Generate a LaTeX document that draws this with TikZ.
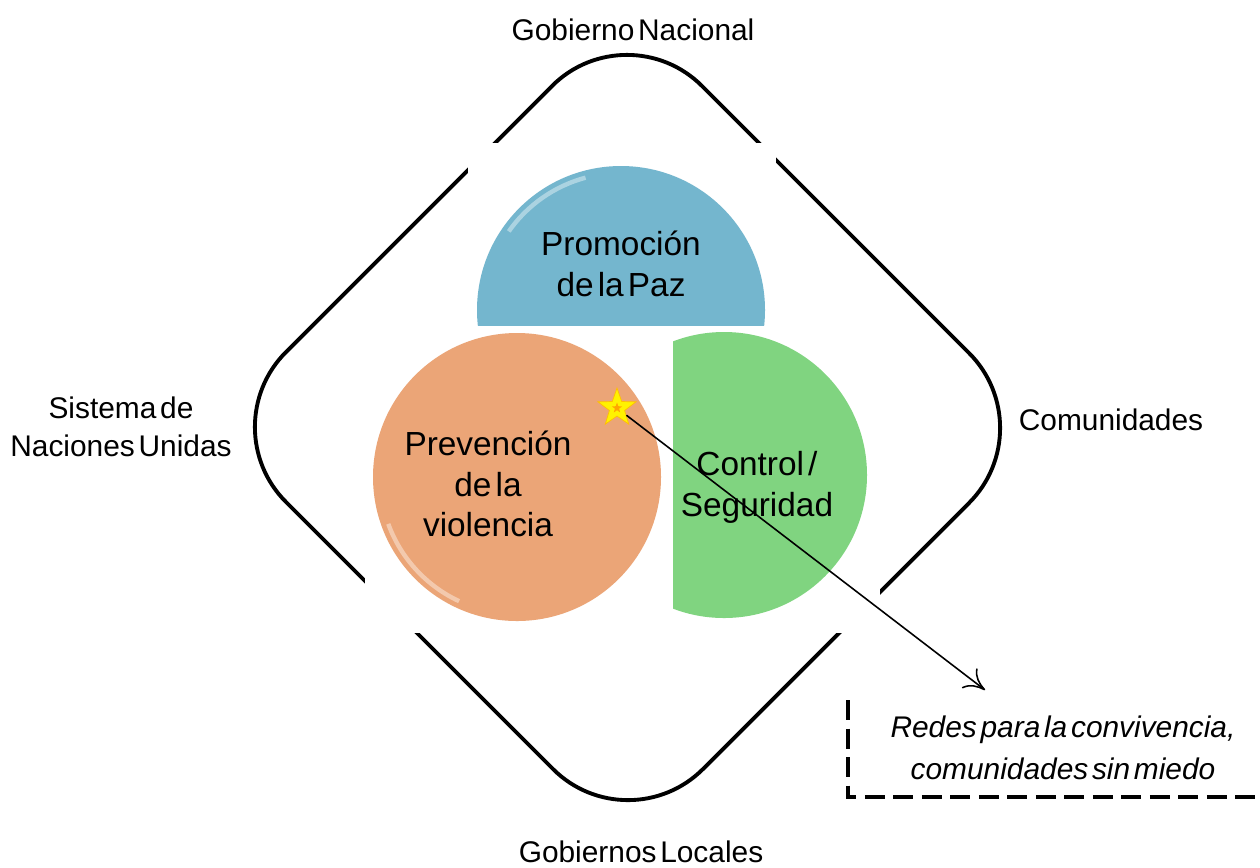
\documentclass[tikz,border=0pt]{standalone}
\usepackage{fontspec}
\setmainfont{Liberation Sans}[WordSpace=0.45]
\usepackage{tikz}
\usetikzlibrary{shapes,arrows,arrows.meta,positioning}

\definecolor{pazblue}{HTML}{74B6CE}
\definecolor{prevorange}{HTML}{EBA577}
\definecolor{ctrlgreen}{HTML}{80D480}

\begin{document}
\begin{tikzpicture}[x=0.02cm, y=-0.02cm]
		\tikzstyle{Label}	= [inner sep=0pt, align=center, font=\fontsize{17}{21.6}\selectfont]
		\tikzstyle{Inner}	= [inner sep=0pt, align=center, font=\fontsize{19}{23.2}\selectfont]
		\tikzstyle{Frame}	= [line width=2.2pt, rounded corners=2.12cm]
		\tikzstyle{Cover}	= [white]
		\tikzstyle{Gloss}	= [white, opacity=0.4, line width=2.5pt]
		\tikzstyle{Star}	= [star, star points=5, star point ratio=2.5, fill=yellow, draw=orange!50!yellow, thin, minimum size=0.8cm, inner sep=0pt]
		\tikzstyle{Pointer}	= [-{To[length=4mm,width=5mm]}, line width=0.9pt]
		\tikzstyle{Box}		= [line width=2.2pt, dash pattern=on 0.4cm off 0.17cm]

		\useasboundingbox (0,0) rectangle (1260,867);

		% rounded frame, partly hidden behind the pictures
		\draw [Frame] (419,219) -- (627,11) -- (1044,428) -- (628,844) -- (211,427) -- cycle;
		\fill [Cover] (468,143) rectangle (776,330);
		\fill [Cover] (365,325) rectangle (880,633);

		% the three shapes
		\begin{scope}
			\clip (468,143) rectangle (776,325);
			\fill [pazblue] (621,310) circle (144);
			\draw [Gloss] (621,310) ++(215:137) arc (215:255:137);
		\end{scope}
		\fill [prevorange] (517,477) circle (144);
		\draw [Gloss] (517,477) ++(115:137) arc (115:160:137);
		\begin{scope}
			\clip (673,300) rectangle (880,640);
			\fill [ctrlgreen] (724,475) circle (143);
		\end{scope}

		\node (paz) at (621,264) [Inner] {Promoción\\de la Paz};
		\node (prev) at (488,484) [Inner] {Prevención\\de la\\violencia};
		\node (ctrl) at (757,487) [Inner] {Control /\\Seguridad};

		% outer actors
		\node (gn) at (633,40) [Label, anchor=base] {Gobierno Nacional};
		\node (gl) at (641,862) [Label, anchor=base] {Gobiernos Locales};
		\node (co) at (1111,430) [Label, anchor=base] {Comunidades};
		\node (sn) at (121,427) [Label] {Sistema de\\Naciones Unidas};

		% star and pointer to the note
		\node (st) at (617,408) [Star] {};
		\node (stc) at (st) [star, star points=5, star point ratio=2.5, fill=orange!70!yellow, minimum size=0.22cm, inner sep=0pt] {};
		\coordinate (tip) at (985,690);
		\draw [Pointer] (st) -- (tip);

		\draw [Box] (848,700) -- (848,797) -- (1262,797);
		\node (redes) at (1063,748) [Label, font=\fontsize{17}{23.9}\selectfont\itshape] {Redes para la convivencia,\\comunidades sin miedo};
	\end{tikzpicture}
\end{document}
